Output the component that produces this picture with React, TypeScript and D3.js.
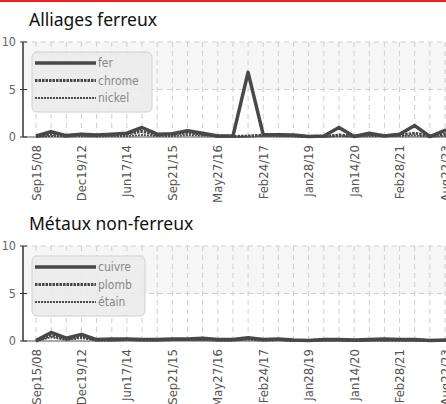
import { useEffect, useRef } from 'react';
import * as d3 from 'd3';

const tickLabels = [
  'Sep15/08', 'Dec19/12', 'Jun17/14', 'Sep21/15', 'May27/16',
  'Feb24/17', 'Jan28/19', 'Jan14/20', 'Feb28/21', 'Aug22/23',
];

const ferrousNames = ['fer', 'chrome', 'nickel'];
const fer = [0.1, 0.55, 0.15, 0.3, 0.2, 0.3, 0.4, 1.0, 0.3, 0.35, 0.65, 0.4, 0.1, 0.1, 6.8, 0.25, 0.25, 0.2, 0.05, 0.1, 1.0, 0.05, 0.4, 0.1, 0.3, 1.2, 0.05, 0.7, 0.4, 0.3];
const chrome = [0.05, 0.3, 0.1, 0.2, 0.15, 0.2, 0.3, 0.6, 0.2, 0.3, 0.45, 0.3, 0.1, 0.05, 0.1, 0.2, 0.2, 0.15, 0.05, 0.05, 0.2, 0.1, 0.25, 0.15, 0.2, 0.4, 0.1, 0.3, 0.2, 0.2];
const nickel = [0.0, 0.1, 0.05, 0.1, 0.05, 0.1, 0.1, 0.2, 0.1, 0.1, 0.2, 0.15, 0.05, 0.05, 0.05, 0.1, 0.1, 0.05, 0.0, 0.05, 0.1, 0.05, 0.1, 0.1, 0.1, 0.15, 0.05, 0.1, 0.1, 0.1];

const nonFerrousNames = ['cuivre', 'plomb', 'étain'];
const cuivre = [0.05, 0.9, 0.3, 0.7, 0.15, 0.2, 0.2, 0.15, 0.15, 0.2, 0.2, 0.3, 0.15, 0.15, 0.35, 0.15, 0.2, 0.1, 0.05, 0.15, 0.15, 0.1, 0.15, 0.2, 0.15, 0.15, 0.05, 0.1, 0.1, 0.1];
const plomb = [0.0, 0.6, 0.2, 0.5, 0.1, 0.1, 0.15, 0.1, 0.1, 0.15, 0.15, 0.2, 0.1, 0.1, 0.25, 0.1, 0.15, 0.05, 0.05, 0.1, 0.1, 0.05, 0.1, 0.1, 0.1, 0.1, 0.05, 0.05, 0.05, 0.05];
const etain = [0.0, 0.4, 0.1, 0.3, 0.05, 0.05, 0.1, 0.05, 0.05, 0.1, 0.1, 0.1, 0.05, 0.05, 0.15, 0.05, 0.1, 0.0, 0.0, 0.05, 0.05, 0.0, 0.05, 0.05, 0.05, 0.05, 0.0, 0.0, 0.0, 0.0];

const yTicks = [0, 5, 10];

const lineStyles = [
  { width: 3.5, dash: null },
  { width: 3, dash: '2.5,1' },
  { width: 1.8, dash: '2,1' },
];

const LINE = '#484848';
const TICK_FONT = '"DejaVu Sans Condensed", "Liberation Sans Narrow", sans-serif';

interface PanelOpts {
  title: string;
  top: number;
  names: string[];
  series: number[][];
  legendW: number;
}

function drawPanel(svg: d3.Selection<SVGSVGElement, unknown, null, undefined>, o: PanelOpts) {
  const g = svg.append('g');
  const plotTop = o.top + 42;
  const plotBottom = o.top + 137;
  const x = d3.scaleLinear().domain([0, 27]).range([36, 445]);
  const y = d3.scaleLinear().domain([0, 10]).range([plotBottom, plotTop]);
  const right = 480;

  g.append('text')
    .attr('x', 29)
    .attr('y', o.top + 26)
    .attr('font-family', '"Noto Sans", sans-serif')
    .attr('font-size', 17.5)
    .attr('fill', '#111')
    .text(o.title);

  // band between 5 and 10
  g.append('rect')
    .attr('x', 23)
    .attr('y', y(10))
    .attr('width', right - 23)
    .attr('height', y(5) - y(10))
    .attr('fill', '#f6f6f6');

  // vertical grid
  g.selectAll('.vg')
    .data(d3.range(0, 30))
    .enter()
    .append('line')
    .attr('x1', d => x(d))
    .attr('x2', d => x(d))
    .attr('y1', y(10))
    .attr('y2', y(0))
    .attr('stroke', '#cfcfcf')
    .attr('stroke-dasharray', '5,4');

  // horizontal grid
  g.selectAll('.hg')
    .data([5, 10])
    .enter()
    .append('line')
    .attr('x1', 23)
    .attr('x2', right)
    .attr('y1', d => y(d))
    .attr('y2', d => y(d))
    .attr('stroke', '#cfcfcf')
    .attr('stroke-dasharray', '5,4');

  // axes
  g.append('line')
    .attr('x1', 23).attr('x2', 23)
    .attr('y1', y(10)).attr('y2', y(0))
    .attr('stroke', '#333').attr('stroke-width', 1.5);
  g.append('line')
    .attr('x1', 23).attr('x2', right)
    .attr('y1', y(0)).attr('y2', y(0))
    .attr('stroke', '#555').attr('stroke-width', 1);
  g.selectAll('.yt')
    .data(yTicks)
    .enter()
    .append('line')
    .attr('x1', 20).attr('x2', 27)
    .attr('y1', d => y(d)).attr('y2', d => y(d))
    .attr('stroke', '#333');
  g.selectAll('.yl')
    .data(yTicks)
    .enter()
    .append('text')
    .attr('x', 16)
    .attr('y', d => y(d))
    .attr('dy', '0.35em')
    .attr('text-anchor', 'end')
    .attr('font-family', TICK_FONT)
    .attr('font-size', 12.5)
    .attr('fill', '#666')
    .text(d => d);

  // x labels
  g.selectAll('.xl')
    .data(tickLabels)
    .enter()
    .append('text')
    .attr('transform', (d, i) => `translate(${x(i * 3)},${plotBottom + 8}) rotate(-90)`)
    .attr('dy', '0.35em')
    .attr('text-anchor', 'end')
    .attr('font-family', TICK_FONT)
    .attr('font-size', 13)
    .attr('fill', '#555')
    .text(d => d);

  // lines
  const line = d3.line<number>()
    .x((d, i) => x(i))
    .y(d => y(d));
  o.series.forEach((s, k) => {
    const st = lineStyles[k];
    g.append('path')
      .datum(s)
      .attr('d', line)
      .attr('fill', 'none')
      .attr('stroke', LINE)
      .attr('stroke-width', st.width)
      .attr('stroke-linejoin', 'round')
      .attr('stroke-dasharray', st.dash);
  });

  // legend
  const lg = g.append('g').attr('transform', `translate(32,${o.top + 52})`);
  lg.append('rect')
    .attr('width', o.legendW)
    .attr('height', 60)
    .attr('rx', 5)
    .attr('fill', '#ebebeb')
    .attr('fill-opacity', 0.92)
    .attr('stroke', '#d0d0d0');
  o.names.forEach((n, k) => {
    const st = lineStyles[k];
    const ly = 11 + k * 17.5;
    lg.append('line')
      .attr('x1', 3).attr('x2', 64)
      .attr('y1', ly).attr('y2', ly)
      .attr('stroke', LINE)
      .attr('stroke-width', st.width)
      .attr('stroke-dasharray', st.dash);
    lg.append('text')
      .attr('x', 66)
      .attr('y', ly)
      .attr('dy', '0.35em')
      .attr('font-family', TICK_FONT)
      .attr('font-size', 12)
      .attr('fill', '#888')
      .text(n);
  });
}

export default function App() {
  const svgRef = useRef<SVGSVGElement>(null);

  useEffect(() => {
    if (!svgRef.current) return;
    const svg = d3.select(svgRef.current);
    svg.selectAll('*').remove();

    svg.append('rect').attr('width', 446).attr('height', 404).attr('fill', '#fff');
    svg.append('rect').attr('x', 0).attr('y', 0).attr('width', 446).attr('height', 2).attr('fill', '#d8282a');

    drawPanel(svg, { title: 'Alliages ferreux', top: 0, names: ferrousNames, series: [fer, chrome, nickel], legendW: 120 });
    drawPanel(svg, { title: 'Métaux non-ferreux', top: 204, names: nonFerrousNames, series: [cuivre, plomb, etain], legendW: 113 });
  }, []);

  return (
    <div style={{ position: 'absolute', left: 0, top: 0 }}>
      <svg ref={svgRef} width={446} height={404} style={{ display: 'block' }} />
    </div>
  );
}
